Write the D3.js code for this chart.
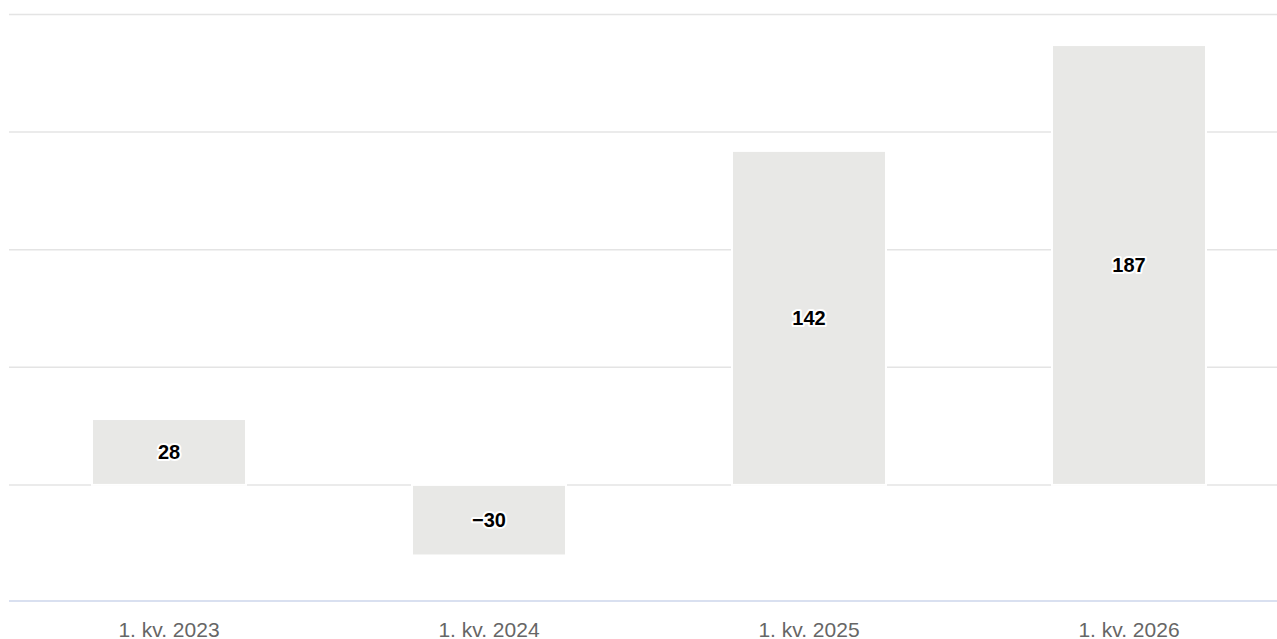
<!DOCTYPE html>
<html><head><meta charset="utf-8">
<script src="https://cdn.jsdelivr.net/npm/d3@7"></script>
<style>
html,body{margin:0;padding:0;background:#fff;overflow:hidden}
svg{display:block;font-family:"Liberation Sans",Arial,sans-serif}
</style></head>
<body>
<svg id="c" width="1277" height="639"></svg>
<script>
const categories = ["1. kv. 2023","1. kv. 2024","1. kv. 2025","1. kv. 2026"];
const values = [28, -30, 142, 187];
const labels = ["28","\u221230","142","187"];
const yTicks = [-50, 0, 50, 100, 150, 200];

const svg = d3.select("#c");
const x = d3.scaleBand().domain(categories).range([9, 1289]).paddingInner(0.525).paddingOuter(0.2625);
const y = d3.scaleLinear().domain([-50, 200]).range([602.5, 14.5]);

// gridlines
svg.append("g").selectAll("line").data(yTicks.filter(t => t > -50)).join("line")
  .attr("x1", 9).attr("x2", 1277)
  .attr("y1", d => y(d)).attr("y2", d => y(d))
  .attr("stroke", "#e4e4e4").attr("stroke-width", 1.5);

// axis line
svg.append("line").attr("x1", 9).attr("x2", 1277)
  .attr("y1", 601).attr("y2", 601)
  .attr("stroke", "#ccd6eb").attr("stroke-width", 1.5);

const data = categories.map((c, i) => ({c, v: values[i], l: labels[i]}));
// white border behind bars
svg.append("g").selectAll("rect").data(data).join("rect")
  .attr("x", d => x(d.c) - 2)
  .attr("width", x.bandwidth() + 4)
  .attr("y", d => Math.min(y(d.v), y(0)) - 1)
  .attr("height", d => Math.abs(y(d.v) - y(0)) + 2)
  .attr("fill", "#fff");
// bars
svg.append("g").selectAll("rect").data(data).join("rect")
  .attr("x", d => x(d.c))
  .attr("width", x.bandwidth())
  .attr("y", d => Math.min(y(d.v), y(0)) + 1)
  .attr("height", d => Math.abs(y(d.v) - y(0)) - 2)
  .attr("fill", "#e8e8e6");

// data labels
svg.append("g").selectAll("text").data(data).join("text")
  .attr("x", d => x(d.c) + x.bandwidth() / 2)
  .attr("y", d => (y(d.v) + y(0)) / 2)
  .attr("dy", "0.35em")
  .attr("text-anchor", "middle")
  .attr("font-size", 20).attr("font-weight", "bold")
  .attr("fill", "#000")
  .attr("stroke", "#fff").attr("stroke-width", 4).attr("stroke-linejoin", "round")
  .attr("paint-order", "stroke")
  .text(d => d.l);

// x axis labels
svg.append("g").selectAll("text").data(categories).join("text")
  .attr("x", d => x(d) + x.bandwidth() / 2)
  .attr("y", 637)
  .attr("text-anchor", "middle")
  .attr("font-size", 21)
  .attr("fill", "#666")
  .text(d => d);
</script>
</body></html>
